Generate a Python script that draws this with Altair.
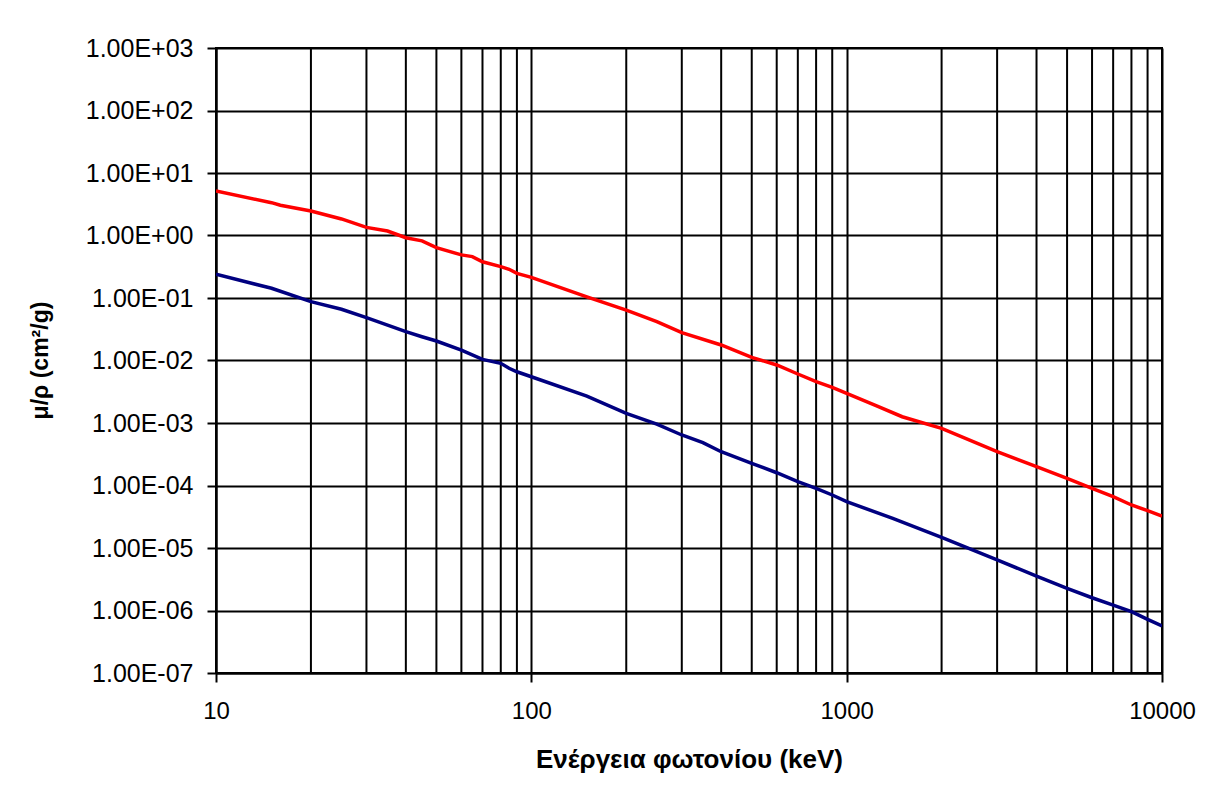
import altair as alt
import pandas as pd
import math

# Photon energy (keV) and mass attenuation coefficients (cm^2/g)
red_energy = [10, 15, 16, 20, 25, 30, 35, 40, 45, 50, 60, 65, 70, 80, 85, 90, 100, 150, 200, 250,
              300, 400, 500, 600, 700, 800, 900, 1000, 1250, 1500, 2000, 3000, 4000, 5000,
              6000, 7000, 8000, 9000, 10000]
red_values = [5.15, 3.35, 3.05, 2.47, 1.84, 1.35, 1.18, 0.92, 0.82, 0.64, 0.49, 0.46, 0.38, 0.317,
              0.288, 0.248, 0.214, 0.104, 0.064, 0.042, 0.0279, 0.0177, 0.0112, 0.00848, 0.00608,
              0.00458, 0.00372, 0.00298, 0.00187, 0.00126, 0.000822, 0.000347, 0.0002, 0.00013,
              0.0000902, 0.0000662, 0.0000488, 0.0000395, 0.0000325]

blue_energy = [10, 15, 20, 25, 30, 40, 45, 50, 60, 70, 80, 85, 90, 100, 150, 200, 250, 300, 350,
               400, 500, 600, 700, 800, 900, 1000, 1400, 2000, 3000, 4000, 5000, 6000, 7000,
               8000, 9000, 10000]
blue_values = [0.24, 0.143, 0.0873, 0.066, 0.0485, 0.0289, 0.024, 0.0205, 0.0147, 0.0104, 0.0090,
               0.0075, 0.0066, 0.0055, 0.0027, 0.00143, 0.00096, 0.000643, 0.000484, 0.000347,
               0.000226, 0.00016, 0.000115, 0.0000902, 0.0000705, 0.0000551, 0.0000298,
               0.0000148, 0.00000643, 0.00000356, 0.00000226, 0.0000016, 0.00000122,
               0.00000096, 0.00000072, 0.000000565]

x_major_ticks = [10, 100, 1000, 10000]
x_minor_grid = [m * d for d in [10, 100, 1000] for m in range(2, 10)]
y_tick_values = [1e-7, 1e-6, 1e-5, 1e-4, 1e-3, 1e-2, 1e-1, 1e0, 1e1, 1e2, 1e3]
y_tick_labels = ["1.00E-07", "1.00E-06", "1.00E-05", "1.00E-04", "1.00E-03", "1.00E-02",
                 "1.00E-01", "1.00E+00", "1.00E+01", "1.00E+02", "1.00E+03"]

x_title = "Ενέργεια φωτονίου (keV)"
y_title = "μ/ρ (cm²/g)"

df = pd.concat([
    pd.DataFrame({"E": red_energy, "mu": red_values, "series": "red"}),
    pd.DataFrame({"E": blue_energy, "mu": blue_values, "series": "blue"}),
])
grid_df = pd.DataFrame({"g": x_minor_grid})

# label expression built from the tick lists
expr = "''"
for v, lab in zip(reversed(y_tick_values), reversed(y_tick_labels)):
    expr = f"(abs(log(datum.value)/LN10 - ({math.log10(v):.0f})) < 0.01 ? '{lab}' : {expr})"

FONT = "Liberation Sans"
x_scale = alt.Scale(type="log", domain=[10, 10000], nice=False)
y_scale = alt.Scale(type="log", domain=[1e-7, 1e3], nice=False)

grid = alt.Chart(grid_df).mark_rule(color="black", strokeWidth=2).encode(
    x=alt.X("g:Q", scale=x_scale)
)

lines = alt.Chart(df).mark_line(strokeWidth=3.5, clip=True).encode(
    x=alt.X("E:Q", scale=x_scale,
            axis=alt.Axis(values=x_major_ticks, title=x_title, format="d",
                          grid=True, gridColor="black", gridWidth=2, gridOpacity=1,
                          tickSize=9, tickColor="black", tickWidth=2,
                          domainColor="black", domainWidth=2, labelFlush=False,
                          labelFont=FONT, labelFontSize=24, labelColor="black", labelPadding=17,
                          titleFont=FONT, titleFontSize=26, titleFontWeight="bold",
                          titleColor="black", titleY=86, titleBaseline="middle")),
    y=alt.Y("mu:Q", scale=y_scale,
            axis=alt.Axis(values=y_tick_values, title=y_title, labelExpr=expr,
                          grid=True, gridColor="black", gridWidth=2, gridOpacity=1,
                          tickSize=9, tickColor="black", tickWidth=2,
                          domainColor="black", domainWidth=2, labelFlush=False,
                          labelFont=FONT, labelFontSize=25, labelColor="black", labelPadding=14,
                          titleFont=FONT, titleFontSize=23, titleFontWeight="bold",
                          titleColor="black", titleX=-176, titleY=312, titleAngle=-90,
                          titleBaseline="middle", titleAlign="center")),
    color=alt.Color("series:N", scale=alt.Scale(domain=["red", "blue"], range=["#FF0000", "#000080"]),
                    legend=None),
    detail="series:N",
)

chart = alt.layer(grid, lines).properties(
    width=946, height=625,
    autosize=alt.AutoSizeParams(type="none"),
    padding={"left": 208, "top": 40, "right": 37, "bottom": 118},
    background="white",
).configure_view(stroke="black", strokeWidth=2)

chart.save("out.html", embed_options={"renderer": "svg", "actions": False})
